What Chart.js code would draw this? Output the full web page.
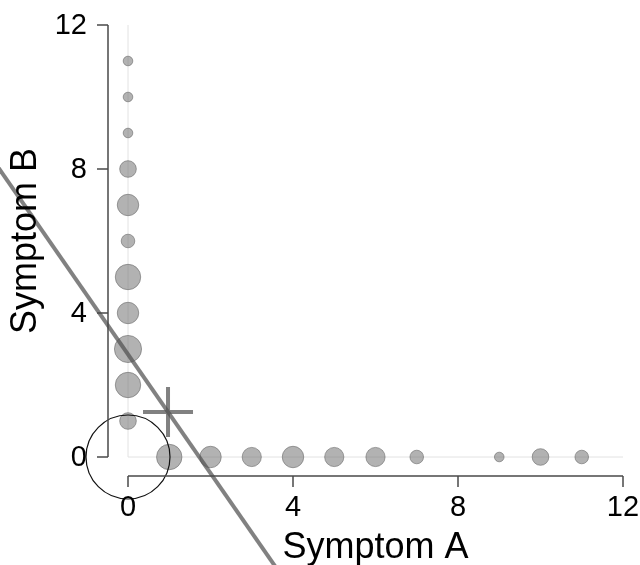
<!DOCTYPE html>
<html>
<head>
<meta charset="utf-8">
<script src="https://cdn.jsdelivr.net/npm/chart.js@4/dist/chart.umd.min.js"></script>
<style>
  html, body { margin: 0; padding: 0; background: #fff; }
  canvas { display: block; }
</style>
</head>
<body>
<canvas id="symptomCanvas" width="640" height="565"></canvas>
<script>
// Symptom A vs Symptom B: counts of cases sitting on each axis,
// a fitted boundary line, the mean point (+) and a unit circle at origin.

// bubbles on the Symptom B axis (A = 0)
const bLevels = [1, 2, 3, 4, 5, 6, 7, 8, 9, 10, 11];
const bCounts = [3, 7, 8, 5, 7, 2, 5, 3, 1, 1, 1];

// bubbles on the Symptom A axis (B = 0)
const aLevels = [1, 2, 3, 4, 5, 6, 7, 9, 10, 11];
const aCounts = [7, 5, 4, 5, 4, 4, 2, 1, 3, 2];

const tickValues = [0, 4, 8, 12];
const axisMin = 0, axisMax = 12;

// fitted line  B = intercept + slope * A
const fitIntercept = 2.85;
const fitSlope = -1.65;
const fitARange = [-3.6, 4.2];

const meanPoint = { x: 0.97, y: 1.25 };
const originPoint = { x: 0, y: 0 };

const FONT = '"Liberation Sans", Arial, Helvetica, sans-serif';
const bubbleFill = 'rgba(115,115,115,0.55)';
const bubbleEdge = 'rgba(105,105,105,0.6)';
const lineGrey = 'rgba(80,80,80,0.72)';

const sizeOf = n => 4.8 * Math.sqrt(n);

const bPoints = bLevels.map((v, i) => ({ x: 0, y: v, r: sizeOf(bCounts[i]) }));
const aPoints = aLevels.map((v, i) => ({ x: v, y: 0, r: sizeOf(aCounts[i]) }));
const fitPoints = fitARange.map(a => ({ x: a, y: fitIntercept + fitSlope * a }));

// R-style detached axes, drawn from the chart's own scales
const axesPlugin = {
  id: 'rAxes',
  beforeDatasetsDraw(chart) {
    const { ctx, chartArea: ca, scales: { x, y } } = chart;
    ctx.save();
    ctx.strokeStyle = '#e2e2e2';
    ctx.lineWidth = 1;
    ctx.beginPath();
    ctx.moveTo(x.getPixelForValue(0), ca.top);
    ctx.lineTo(x.getPixelForValue(0), ca.bottom);
    ctx.moveTo(ca.left, y.getPixelForValue(0));
    ctx.lineTo(ca.right, y.getPixelForValue(0));
    ctx.stroke();
    ctx.restore();
  },
  afterDatasetsDraw(chart) {
    const { ctx, chartArea: ca, scales: { x, y } } = chart;
    const yAxisX = ca.left - 20;
    const xAxisY = ca.bottom + 19;
    ctx.save();
    ctx.strokeStyle = '#4a4a4a';
    ctx.lineWidth = 1.5;

    // y axis
    ctx.beginPath();
    ctx.moveTo(yAxisX, y.getPixelForValue(axisMin));
    ctx.lineTo(yAxisX, y.getPixelForValue(axisMax));
    tickValues.forEach(v => {
      const py = y.getPixelForValue(v);
      ctx.moveTo(yAxisX, py); ctx.lineTo(yAxisX - 11, py);
    });
    ctx.stroke();

    // x axis
    ctx.beginPath();
    ctx.moveTo(x.getPixelForValue(axisMin), xAxisY);
    ctx.lineTo(x.getPixelForValue(axisMax), xAxisY);
    tickValues.forEach(v => {
      const px = x.getPixelForValue(v);
      ctx.moveTo(px, xAxisY); ctx.lineTo(px, xAxisY + 11);
    });
    ctx.stroke();

    // tick labels
    ctx.fillStyle = '#000';
    ctx.font = '29px ' + FONT;
    ctx.textAlign = 'right';
    ctx.textBaseline = 'middle';
    tickValues.forEach(v => ctx.fillText(String(v), yAxisX - 21, y.getPixelForValue(v) + 1));
    ctx.textAlign = 'center';
    ctx.textBaseline = 'alphabetic';
    tickValues.forEach(v => ctx.fillText(String(v), x.getPixelForValue(v), xAxisY + 40));

    // titles
    ctx.font = '36px ' + FONT;
    ctx.fillText('Symptom A', (ca.left + ca.right) / 2, 558);
    ctx.translate(36, (ca.top + ca.bottom) / 2);
    ctx.rotate(-Math.PI / 2);
    ctx.fillText('Symptom B', 0, 0);
    ctx.restore();
  }
};

new Chart(document.getElementById('symptomCanvas'), {
  type: 'bubble',
  data: {
    datasets: [
      { type: 'line', data: fitPoints, borderColor: lineGrey, borderWidth: 4,
        pointRadius: 0, tension: 0, clip: false, order: 0 },
      { type: 'scatter', data: [meanPoint], pointStyle: 'cross', radius: 25,
        borderColor: lineGrey, borderWidth: 4, clip: false, order: 1 },
      { data: [{ ...originPoint, r: 42 }], backgroundColor: 'rgba(0,0,0,0)',
        borderColor: '#111', borderWidth: 1.2, clip: false, order: 2 },
      { data: bPoints, backgroundColor: bubbleFill, borderColor: bubbleEdge, borderWidth: 1, clip: false, order: 3 },
      { data: aPoints, backgroundColor: bubbleFill, borderColor: bubbleEdge, borderWidth: 1, clip: false, order: 4 }
    ]
  },
  options: {
    responsive: false,
    animation: false,
    events: [],
    layout: { autoPadding: false, padding: { left: 128, right: 17, top: 25, bottom: 108 } },
    plugins: { legend: { display: false }, tooltip: { enabled: false } },
    scales: {
      x: { type: 'linear', min: axisMin, max: axisMax, display: false },
      y: { type: 'linear', min: axisMin, max: axisMax, display: false }
    }
  },
  plugins: [axesPlugin]
});
</script>
</body>
</html>
